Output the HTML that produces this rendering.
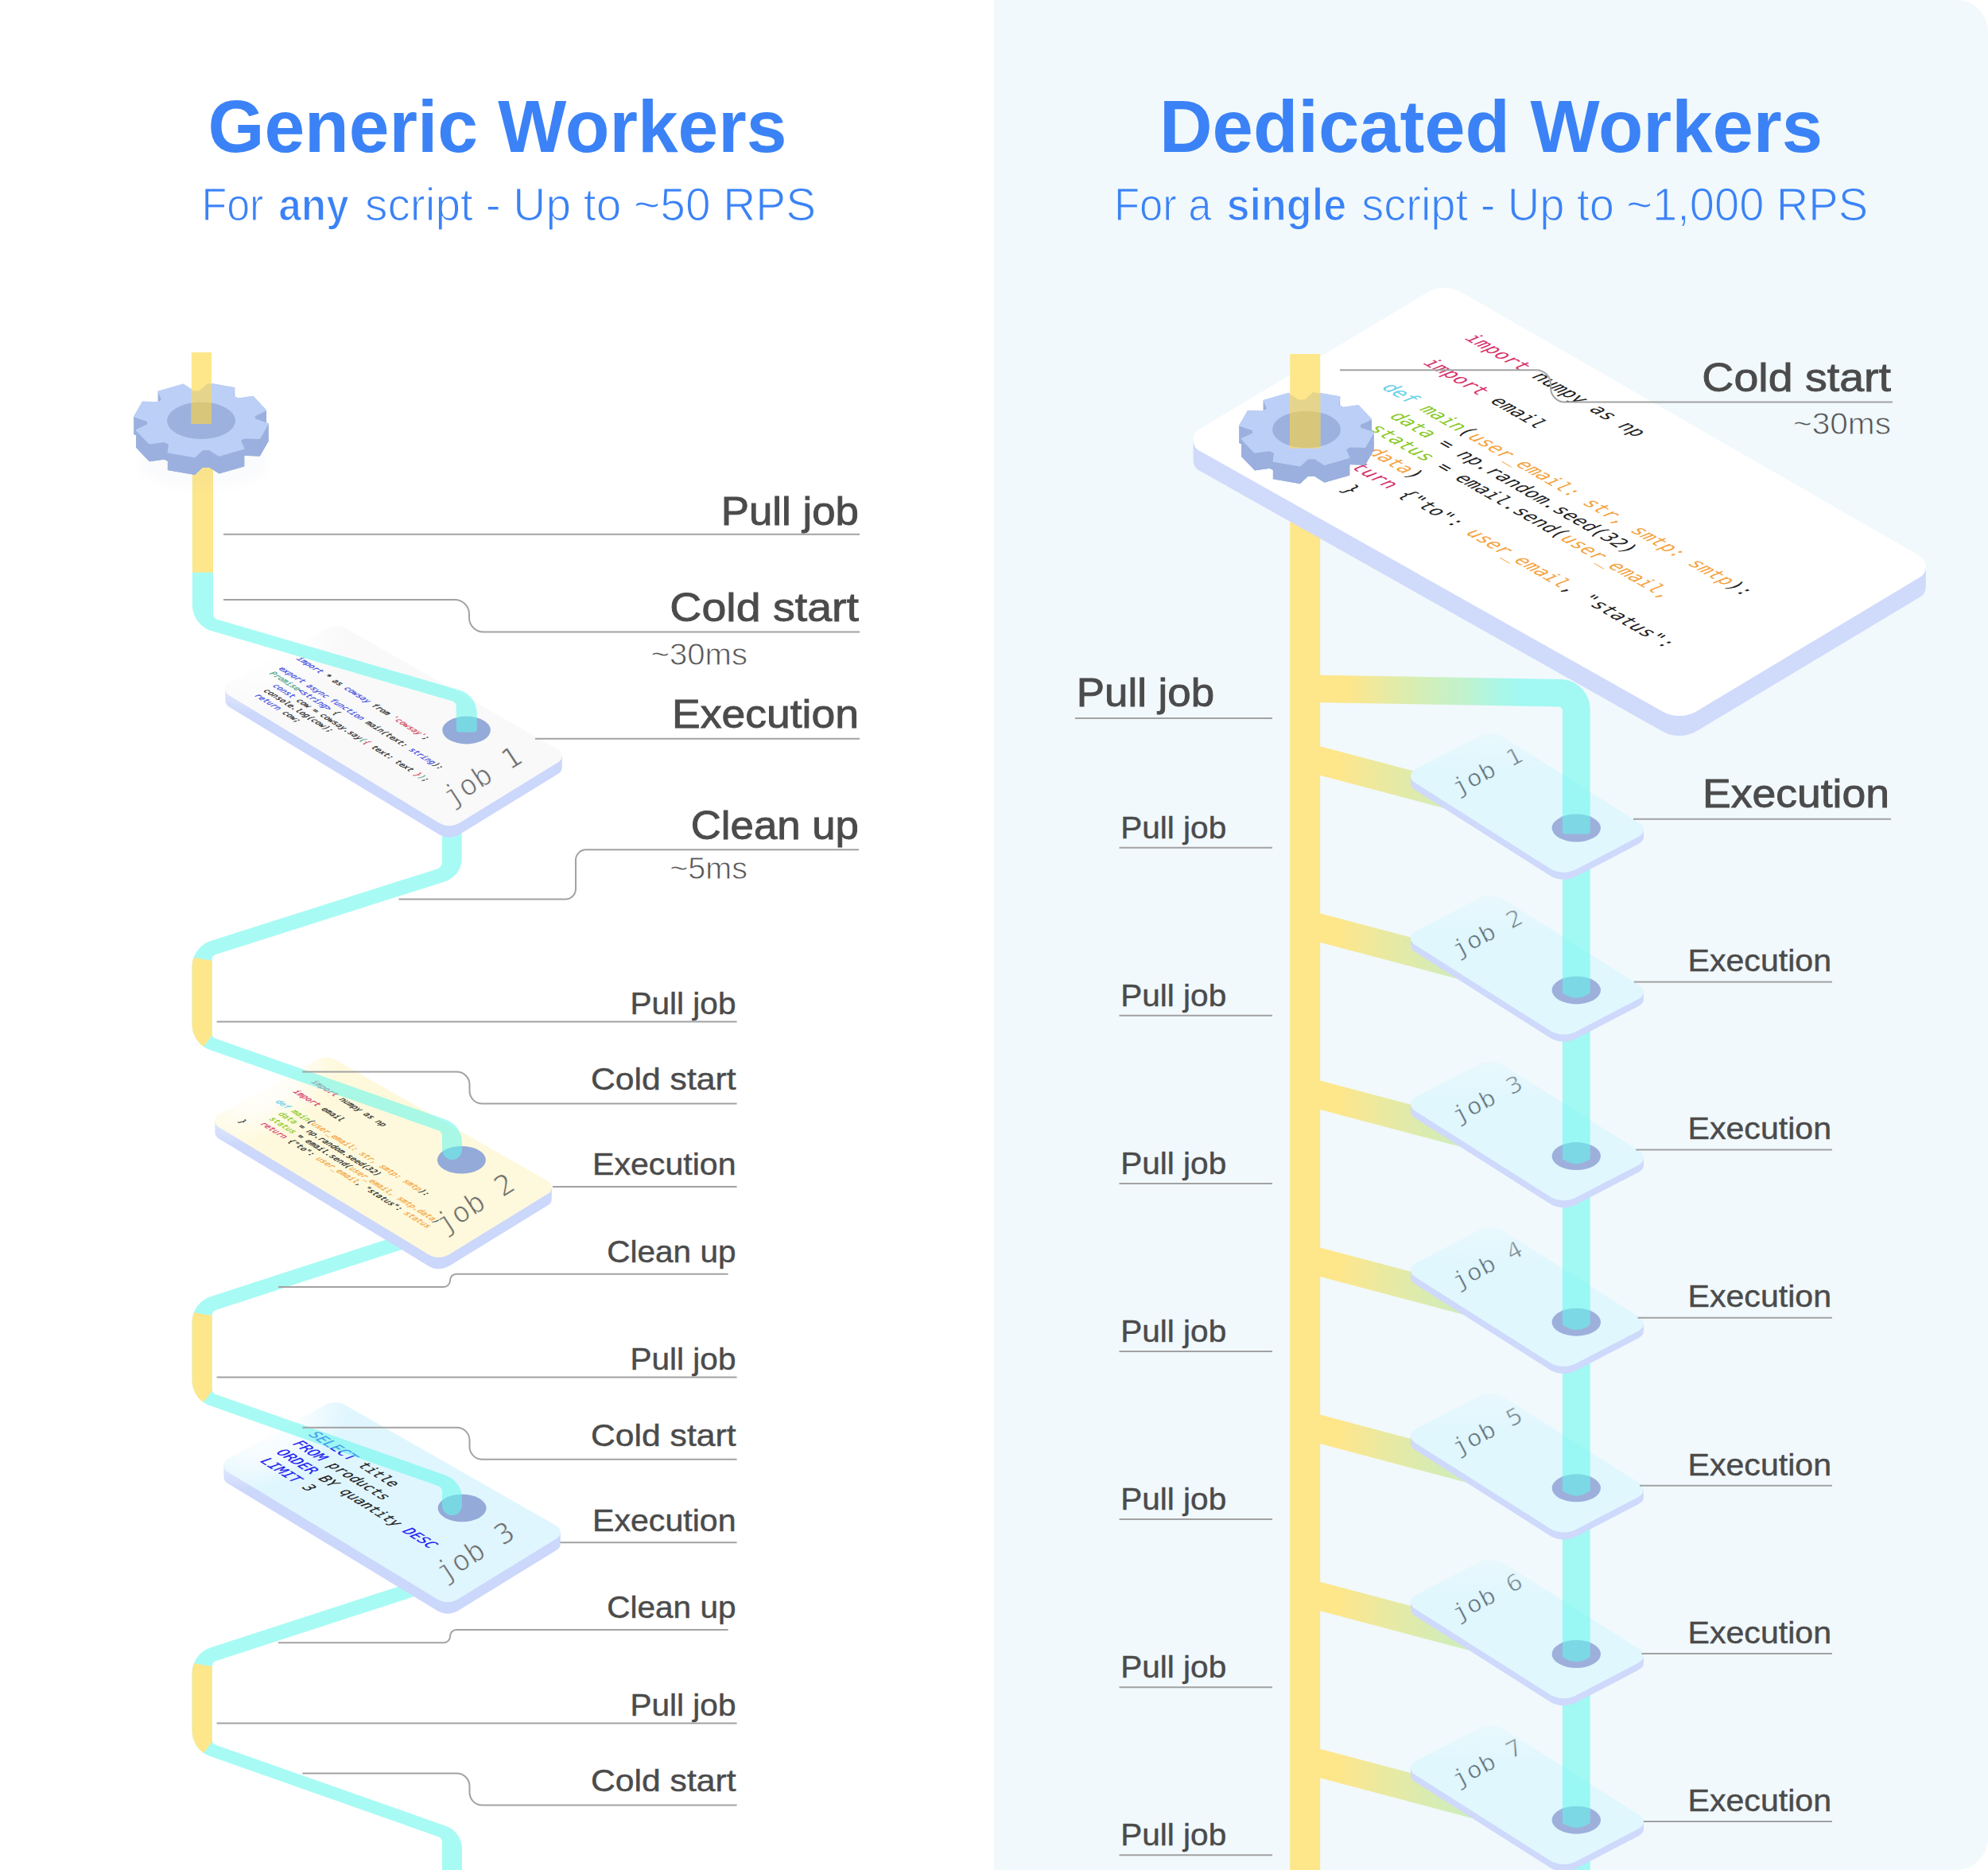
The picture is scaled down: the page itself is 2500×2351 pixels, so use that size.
<!DOCTYPE html>
<html lang="en"><head><meta charset="utf-8"><title>Generic Workers vs Dedicated Workers</title>
<style>
html,body{margin:0;padding:0;background:#fff}
body{width:2500px;height:2351px;overflow:hidden}
svg{display:block}
text{white-space:pre}
</style></head><body>
<svg width="2500" height="2351" viewBox="0 0 2500 2351">
<defs><clipPath id="rb0"><path d="M556 1025C556 1025 556 1025 556 1025L580.7 1025C580.7 1025 580.7 1025 580.7 1025L580.7 1079.62C580.7 1092.68 572.24 1104.25 559.79 1108.21L271.48 1199.89C268.57 1200.82 266.6 1203.51 266.6 1206.56L266.6 1299.16C266.6 1302.13 268.47 1304.78 271.28 1305.77L560.96 1407.74C572.97 1411.96 581 1423.31 581 1436.03L581 1445.6C581 1452.45 575.45 1458 568.6 1458L568.4 1458C561.55 1458 556 1452.45 556 1445.6L556 1427.75C556 1424.78 554.13 1422.13 551.32 1421.14L264.31 1320.12C250.7 1315.33 241.6 1302.47 241.6 1288.04L241.6 1215.26C241.6 1200.45 251.18 1187.34 265.3 1182.86L549.73 1092.41C553.46 1091.22 556 1087.75 556 1083.83Z"/></clipPath>
<clipPath id="rb1"><path d="M530 1543.96C530 1543.96 530 1543.96 530 1543.96L530 1562.96C530 1562.96 530 1562.96 530 1562.96L271.44 1646.99C268.55 1647.93 266.6 1650.62 266.6 1653.65L266.6 1746.36C266.6 1749.33 268.47 1751.98 271.28 1752.97L560.96 1854.94C572.97 1859.16 581 1870.51 581 1883.23L581 1892.8C581 1899.65 575.45 1905.2 568.6 1905.2L568.4 1905.2C561.55 1905.2 556 1899.65 556 1892.8L556 1874.95C556 1871.98 554.13 1869.33 551.32 1868.34L264.31 1767.32C250.7 1762.53 241.6 1749.67 241.6 1735.24L241.6 1662.39C241.6 1647.66 251.08 1634.61 265.09 1630.06Z"/></clipPath>
<clipPath id="rb2"><path d="M530 1985.16C530 1985.16 530 1985.16 530 1985.16L530 2004.16C530 2004.16 530 2004.16 530 2004.16L271.44 2088.19C268.55 2089.13 266.6 2091.82 266.6 2094.85L266.6 2187.16C266.6 2190.13 268.47 2192.78 271.28 2193.77L560.96 2295.74C572.97 2299.96 581 2311.31 581 2324.03L581 2400C581 2400 581 2400 581 2400L556 2400C556 2400 556 2400 556 2400L556 2315.75C556 2312.78 554.13 2310.13 551.32 2309.14L264.31 2208.12C250.7 2203.33 241.6 2190.47 241.6 2176.04L241.6 2103.59C241.6 2088.86 251.08 2075.81 265.09 2071.26Z"/></clipPath>
<radialGradient id="fade3" gradientUnits="userSpaceOnUse" cx="341" cy="1798.65" r="105" gradientTransform="rotate(-29 341 1798.65) scale(1 0.6) translate(0 1199.1)"><stop offset="0" stop-color="#fff" stop-opacity="0.92"/><stop offset="0.45" stop-color="#fff" stop-opacity="0.7"/><stop offset="1" stop-color="#fff" stop-opacity="0"/></radialGradient>
<radialGradient id="fade2" gradientUnits="userSpaceOnUse" cx="330" cy="1365.25" r="105" gradientTransform="rotate(-29 330 1365.25) scale(1 0.6) translate(0 910.17)"><stop offset="0" stop-color="#fff" stop-opacity="0.92"/><stop offset="0.45" stop-color="#fff" stop-opacity="0.7"/><stop offset="1" stop-color="#fff" stop-opacity="0"/></radialGradient>
<radialGradient id="fade1" gradientUnits="userSpaceOnUse" cx="343" cy="822.65" r="105" gradientTransform="rotate(-29 343 822.65) scale(1 0.6) translate(0 548.43)"><stop offset="0" stop-color="#fff" stop-opacity="0.92"/><stop offset="0.45" stop-color="#fff" stop-opacity="0.7"/><stop offset="1" stop-color="#fff" stop-opacity="0"/></radialGradient>
<clipPath id="rbA"><path d="M241.9 560C241.9 560 241.9 560 241.9 560L268 560C268 560 268 560 268 560L268 772.03C268 775.14 270.05 777.88 273.04 778.75L578.21 867.86C591 871.59 599.8 883.32 599.8 896.65L599.8 917.6C599.8 919.26 598.46 920.6 596.8 920.6L576.8 920.6C575.14 920.6 573.8 919.26 573.8 917.6L573.8 888.32C573.8 885.21 571.75 882.47 568.76 881.6L266.37 793.3C251.87 789.07 241.9 775.77 241.9 760.66Z"/></clipPath>
<filter id="blur8" x="-20%" y="-40%" width="140%" height="180%"><feGaussianBlur stdDeviation="7"/></filter>
<clipPath id="glt"><path d="M320.58 527.23L337.11 532.66L326.55 551.1L307.34 550.33L302.04 553.81L306.75 564.08L275.58 573.01L262.99 564.99L254.77 565.39L244.9 574.49L211.39 568.67L212.79 558.1L206.47 555.18L187.8 557.78L171.57 540.63L186.14 533.7L185.42 529.17L168.89 523.74L179.45 505.3L198.66 506.07L203.96 502.59L199.25 492.32L230.42 483.39L243.01 491.41L251.23 491.01L261.1 481.91L294.61 487.73L293.21 498.3L299.53 501.22L318.2 498.62L334.43 515.77L319.86 522.7Z"/></clipPath>
<clipPath id="glh"><ellipse cx="253" cy="528.8" rx="43" ry="23.2" /></clipPath>
<linearGradient id="gh" gradientUnits="userSpaceOnUse" x1="1660" y1="0" x2="1960" y2="0"><stop offset="0" stop-color="#fee68b"/><stop offset="0.12" stop-color="#fee68b"/><stop offset="0.62" stop-color="#b4f1c4" stop-opacity="0.8"/><stop offset="0.85" stop-color="#64f7ec" stop-opacity="0.56"/><stop offset="1" stop-color="#64f7ec" stop-opacity="0.56"/></linearGradient>
<linearGradient id="gs" gradientUnits="userSpaceOnUse" x1="1660" y1="0" x2="1900" y2="0"><stop offset="0" stop-color="#fee68b"/><stop offset="0.1" stop-color="#fee68b"/><stop offset="0.32" stop-color="#ebe9a0"/><stop offset="0.63" stop-color="#d5ecb5"/><stop offset="1" stop-color="#c4efc8"/></linearGradient>
<linearGradient id="fr6" gradientUnits="userSpaceOnUse" x1="0" y1="2166.15" x2="0" y2="2216.15"><stop offset="0" stop-color="#f1f9fc" stop-opacity="0.55"/><stop offset="1" stop-color="#f1f9fc" stop-opacity="0"/></linearGradient>
<linearGradient id="fr5" gradientUnits="userSpaceOnUse" x1="0" y1="1957.5" x2="0" y2="2007.5"><stop offset="0" stop-color="#f1f9fc" stop-opacity="0.55"/><stop offset="1" stop-color="#f1f9fc" stop-opacity="0"/></linearGradient>
<linearGradient id="fr4" gradientUnits="userSpaceOnUse" x1="0" y1="1748.85" x2="0" y2="1798.85"><stop offset="0" stop-color="#f1f9fc" stop-opacity="0.55"/><stop offset="1" stop-color="#f1f9fc" stop-opacity="0"/></linearGradient>
<linearGradient id="fr3" gradientUnits="userSpaceOnUse" x1="0" y1="1540.2" x2="0" y2="1590.2"><stop offset="0" stop-color="#f1f9fc" stop-opacity="0.55"/><stop offset="1" stop-color="#f1f9fc" stop-opacity="0"/></linearGradient>
<linearGradient id="fr2" gradientUnits="userSpaceOnUse" x1="0" y1="1331.55" x2="0" y2="1381.55"><stop offset="0" stop-color="#f1f9fc" stop-opacity="0.55"/><stop offset="1" stop-color="#f1f9fc" stop-opacity="0"/></linearGradient>
<linearGradient id="fr1" gradientUnits="userSpaceOnUse" x1="0" y1="1122.9" x2="0" y2="1172.9"><stop offset="0" stop-color="#f1f9fc" stop-opacity="0.55"/><stop offset="1" stop-color="#f1f9fc" stop-opacity="0"/></linearGradient>
<linearGradient id="fr0" gradientUnits="userSpaceOnUse" x1="0" y1="919" x2="0" y2="969"><stop offset="0" stop-color="#f1f9fc" stop-opacity="0.55"/><stop offset="1" stop-color="#f1f9fc" stop-opacity="0"/></linearGradient>
<clipPath id="grt"><path d="M1710.58 538.43L1727.11 543.86L1716.55 562.3L1697.34 561.53L1692.04 565.01L1696.75 575.28L1665.58 584.21L1652.99 576.19L1644.77 576.59L1634.9 585.69L1601.39 579.87L1602.79 569.3L1596.47 566.38L1577.8 568.98L1561.57 551.83L1576.14 544.9L1575.42 540.37L1558.89 534.94L1569.45 516.5L1588.66 517.27L1593.96 513.79L1589.25 503.52L1620.42 494.59L1633.01 502.61L1641.23 502.21L1651.1 493.11L1684.61 498.93L1683.21 509.5L1689.53 512.42L1708.2 509.82L1724.43 526.97L1709.86 533.9Z"/></clipPath>
<clipPath id="grh"><ellipse cx="1643" cy="540" rx="43" ry="23.2" /></clipPath></defs>
<rect x="0" y="0" width="2500" height="2351" fill="#fff"/>
<path d="M1250 0H2460A40 40 0 0 1 2500 40V2311A40 40 0 0 1 2460 2351H1250Z" fill="#f1f9fc"/>
<text x="625.5" y="190.5" font-family="'Liberation Sans', sans-serif" font-size="93" font-weight="700" fill="#3b82f6" text-anchor="middle" textLength="728" lengthAdjust="spacingAndGlyphs">Generic Workers</text>
<text x="253.4" y="276.5" font-family="'Liberation Sans', sans-serif" font-size="57" fill="#3b82f6" font-weight="400" stroke="#fff" stroke-width="1.2" textLength="78" lengthAdjust="spacingAndGlyphs">For</text><text x="350.2" y="276.5" font-family="'Liberation Sans', sans-serif" font-size="57" fill="#3b82f6" font-weight="700" stroke="#fff" stroke-width="1.6" textLength="88.7" lengthAdjust="spacingAndGlyphs">any</text><text x="459" y="276.5" font-family="'Liberation Sans', sans-serif" font-size="57" fill="#3b82f6" font-weight="400" stroke="#fff" stroke-width="1.2" textLength="567.2" lengthAdjust="spacingAndGlyphs">script - Up to ~50 RPS</text>
<text x="1875" y="190.5" font-family="'Liberation Sans', sans-serif" font-size="93" font-weight="700" fill="#3b82f6" text-anchor="middle" textLength="834" lengthAdjust="spacingAndGlyphs">Dedicated Workers</text>
<text x="1400.9" y="276.5" font-family="'Liberation Sans', sans-serif" font-size="57" fill="#3b82f6" font-weight="400" stroke="#f1f9fc" stroke-width="1.2" textLength="122.6" lengthAdjust="spacingAndGlyphs">For a</text><text x="1542.4" y="276.5" font-family="'Liberation Sans', sans-serif" font-size="57" fill="#3b82f6" font-weight="700" stroke="#f1f9fc" stroke-width="1.6" textLength="150.9" lengthAdjust="spacingAndGlyphs">single</text><text x="1712.2" y="276.5" font-family="'Liberation Sans', sans-serif" font-size="57" fill="#3b82f6" font-weight="400" stroke="#f1f9fc" stroke-width="1.2" textLength="636.9" lengthAdjust="spacingAndGlyphs">script - Up to ~1,000 RPS</text>
<path d="M530 1985.16C530 1985.16 530 1985.16 530 1985.16L530 2004.16C530 2004.16 530 2004.16 530 2004.16L271.44 2088.19C268.55 2089.13 266.6 2091.82 266.6 2094.85L266.6 2187.16C266.6 2190.13 268.47 2192.78 271.28 2193.77L560.96 2295.74C572.97 2299.96 581 2311.31 581 2324.03L581 2400C581 2400 581 2400 581 2400L556 2400C556 2400 556 2400 556 2400L556 2315.75C556 2312.78 554.13 2310.13 551.32 2309.14L264.31 2208.12C250.7 2203.33 241.6 2190.47 241.6 2176.04L241.6 2103.59C241.6 2088.86 251.08 2075.81 265.09 2071.26Z" fill="#64f7ec" fill-opacity="0.56"/><path d="M230 2089.1L280 2097.1L280 2172.6L230 2237.9Z" fill="#fee68b" clip-path="url(#rb2)"/>
<path d="M409.19 1780.63C416.83 1776.39 426.13 1776.45 433.72 1780.78L700.22 1932.97C706.15 1936.36 706.29 1944.87 700.47 1948.45L576.02 2024.99C568.03 2029.91 557.96 2029.94 549.94 2025.06L285.74 1864.54C279.84 1860.96 280.01 1852.33 286.04 1848.98ZM281.41 1842.18L704.75 1926.14L704.75 1940.64L281.41 1856.68Z" fill="#cbd7fb"/><path d="M409.19 1766.13C416.83 1761.89 426.13 1761.95 433.72 1766.28L700.22 1918.47C706.15 1921.86 706.29 1930.37 700.47 1933.95L576.02 2010.49C568.03 2015.41 557.96 2015.44 549.94 2010.56L285.74 1850.04C279.84 1846.46 280.01 1837.83 286.04 1834.48Z" fill="#e0f6fe"/><path d="M407.68 1761.43C415.37 1757.13 424.76 1757.18 432.39 1761.59L704.79 1918.68C710.69 1922.07 710.82 1930.53 705.04 1934.12L577.52 2013.32C569.48 2018.31 559.32 2018.34 551.25 2013.39L281.17 1847.69C275.32 1844.09 275.48 1835.53 281.48 1832.17ZM407.68 1777.93C415.37 1773.63 424.76 1773.68 432.39 1778.09L704.79 1935.18C710.69 1938.57 710.82 1947.03 705.04 1950.62L577.52 2029.82C569.48 2034.81 559.32 2034.84 551.25 2029.89L281.17 1864.19C275.32 1860.59 275.48 1852.03 281.48 1848.67Z" fill="url(#fade3)"/>
<g transform="matrix(0.85 0.53 -0.88 0.48 387.5 1804.3)" font-family="'DejaVu Sans Mono', 'Liberation Mono', monospace" font-size="17.25" font-style="italic" stroke-width="0.25"><text x="0" y="0" xml:space="preserve"><tspan fill="#1d1df0" stroke="#1d1df0">SELECT</tspan><tspan fill="#1f1f1f" stroke="#1f1f1f"> title</tspan></text><text x="0" y="23.1" xml:space="preserve"><tspan fill="#1d1df0" stroke="#1d1df0">FROM</tspan><tspan fill="#1f1f1f" stroke="#1f1f1f"> products</tspan></text><text x="0" y="46.2" xml:space="preserve"><tspan fill="#1d1df0" stroke="#1d1df0">ORDER</tspan><tspan fill="#1f1f1f" stroke="#1f1f1f"> BY quantity </tspan><tspan fill="#1d1df0" stroke="#1d1df0">DESC</tspan></text><text x="0" y="69.3" xml:space="preserve"><tspan fill="#1d1df0" stroke="#1d1df0">LIMIT</tspan><tspan fill="#1f1f1f" stroke="#1f1f1f"> 3</tspan></text></g>
<ellipse cx="581.1" cy="1896" rx="30.5" ry="17.3" fill="#94aad9"/>
<text transform="matrix(0.85 -0.53 0.55 0.84 558 1990)" font-family="'DejaVu Sans Mono', 'Liberation Mono', monospace" font-size="36" fill="#6e6e6e" stroke="#e0f6fe" stroke-width="0.9" xml:space="preserve">job 3</text>
<path d="M530 1543.96C530 1543.96 530 1543.96 530 1543.96L530 1562.96C530 1562.96 530 1562.96 530 1562.96L271.44 1646.99C268.55 1647.93 266.6 1650.62 266.6 1653.65L266.6 1746.36C266.6 1749.33 268.47 1751.98 271.28 1752.97L560.96 1854.94C572.97 1859.16 581 1870.51 581 1883.23L581 1892.8C581 1899.65 575.45 1905.2 568.6 1905.2L568.4 1905.2C561.55 1905.2 556 1899.65 556 1892.8L556 1874.95C556 1871.98 554.13 1869.33 551.32 1868.34L264.31 1767.32C250.7 1762.53 241.6 1749.67 241.6 1735.24L241.6 1662.39C241.6 1647.66 251.08 1634.61 265.09 1630.06Z" fill="#64f7ec" fill-opacity="0.56"/><path d="M230 1648.1L280 1656.1L280 1731.4L230 1796.7Z" fill="#fee68b" clip-path="url(#rb1)"/>
<path d="M398.19 1347.23C405.83 1342.99 415.13 1343.05 422.72 1347.38L689.22 1499.57C695.15 1502.96 695.29 1511.47 689.47 1515.05L565.02 1591.59C557.03 1596.51 546.96 1596.54 538.94 1591.66L274.74 1431.14C268.84 1427.56 269.01 1418.93 275.04 1415.58ZM270.41 1408.78L693.75 1492.74L693.75 1507.24L270.41 1423.28Z" fill="#cbd7fb"/><path d="M398.19 1332.73C405.83 1328.49 415.13 1328.55 422.72 1332.88L689.22 1485.07C695.15 1488.46 695.29 1496.97 689.47 1500.55L565.02 1577.09C557.03 1582.01 546.96 1582.04 538.94 1577.16L274.74 1416.64C268.84 1413.06 269.01 1404.43 275.04 1401.08Z" fill="#fef9dc"/><path d="M396.68 1328.03C404.37 1323.73 413.76 1323.78 421.39 1328.19L693.79 1485.28C699.69 1488.67 699.82 1497.13 694.04 1500.72L566.52 1579.92C558.48 1584.91 548.32 1584.94 540.25 1579.99L270.17 1414.29C264.32 1410.69 264.48 1402.13 270.48 1398.77ZM396.68 1344.53C404.37 1340.23 413.76 1340.28 421.39 1344.69L693.79 1501.78C699.69 1505.17 699.82 1513.63 694.04 1517.22L566.52 1596.42C558.48 1601.41 548.32 1601.44 540.25 1596.49L270.17 1430.79C264.32 1427.19 264.48 1418.63 270.48 1415.27Z" fill="url(#fade2)"/>
<g transform="matrix(0.85 0.53 -0.88 0.48 391 1360.5)" font-family="'DejaVu Sans Mono', 'Liberation Mono', monospace" font-size="9.8" font-style="italic" stroke-width="0.28"><text x="0" y="0" xml:space="preserve"><tspan fill="#d6336c" stroke="#d6336c">import</tspan><tspan fill="#1f1f1f" stroke="#1f1f1f"> numpy as np</tspan></text><text x="0" y="25.76" xml:space="preserve"><tspan fill="#d6336c" stroke="#d6336c">import</tspan><tspan fill="#1f1f1f" stroke="#1f1f1f"> email</tspan></text><text x="0" y="51.52" xml:space="preserve"><tspan fill="#66d0e8" stroke="#66d0e8">def </tspan><tspan fill="#8ac926" stroke="#8ac926">main</tspan><tspan fill="#1f1f1f" stroke="#1f1f1f">(</tspan><tspan fill="#f4a340" stroke="#f4a340">user_email: str, smtp: smtp</tspan><tspan fill="#1f1f1f" stroke="#1f1f1f">):</tspan></text><text x="0" y="64.4" xml:space="preserve"><tspan fill="#8ac926" stroke="#8ac926">   data</tspan><tspan fill="#1f1f1f" stroke="#1f1f1f"> = np.random.seed(32)</tspan></text><text x="0" y="77.28" xml:space="preserve"><tspan fill="#8ac926" stroke="#8ac926">   status</tspan><tspan fill="#1f1f1f" stroke="#1f1f1f"> = email.send(</tspan><tspan fill="#f4a340" stroke="#f4a340">user_email, smtp.data</tspan><tspan fill="#1f1f1f" stroke="#1f1f1f">)</tspan></text><text x="0" y="90.16" xml:space="preserve"><tspan fill="#d6336c" stroke="#d6336c">   return</tspan><tspan fill="#1f1f1f" stroke="#1f1f1f"> {"to": </tspan><tspan fill="#f4a340" stroke="#f4a340">user_email</tspan><tspan fill="#1f1f1f" stroke="#1f1f1f">, "status": </tspan><tspan fill="#f4a340" stroke="#f4a340">status</tspan></text><text x="0" y="103.04" xml:space="preserve"><tspan fill="#1f1f1f" stroke="#1f1f1f">}</tspan></text></g>
<ellipse cx="580.4" cy="1458.3" rx="30.5" ry="17.3" fill="#94aad9"/>
<text transform="matrix(0.85 -0.53 0.55 0.84 558 1552)" font-family="'DejaVu Sans Mono', 'Liberation Mono', monospace" font-size="36" fill="#6e6e6e" stroke="#fef9dc" stroke-width="0.9" xml:space="preserve">job 2</text>
<path d="M556 1025C556 1025 556 1025 556 1025L580.7 1025C580.7 1025 580.7 1025 580.7 1025L580.7 1079.62C580.7 1092.68 572.24 1104.25 559.79 1108.21L271.48 1199.89C268.57 1200.82 266.6 1203.51 266.6 1206.56L266.6 1299.16C266.6 1302.13 268.47 1304.78 271.28 1305.77L560.96 1407.74C572.97 1411.96 581 1423.31 581 1436.03L581 1445.6C581 1452.45 575.45 1458 568.6 1458L568.4 1458C561.55 1458 556 1452.45 556 1445.6L556 1427.75C556 1424.78 554.13 1422.13 551.32 1421.14L264.31 1320.12C250.7 1315.33 241.6 1302.47 241.6 1288.04L241.6 1215.26C241.6 1200.45 251.18 1187.34 265.3 1182.86L549.73 1092.41C553.46 1091.22 556 1087.75 556 1083.83Z" fill="#64f7ec" fill-opacity="0.56"/><path d="M230 1201.8L280 1209.8L280 1284.2L230 1349.5Z" fill="#fee68b" clip-path="url(#rb0)"/>
<path d="M411.19 804.63C418.83 800.39 428.13 800.45 435.72 804.78L702.22 956.97C708.15 960.36 708.29 968.87 702.47 972.45L578.02 1048.99C570.03 1053.91 559.96 1053.94 551.94 1049.06L287.74 888.54C281.84 884.96 282.01 876.33 288.04 872.98ZM283.41 866.18L706.75 950.14L706.75 964.64L283.41 880.68Z" fill="#cbd7fb"/><path d="M411.19 790.13C418.83 785.89 428.13 785.95 435.72 790.28L702.22 942.47C708.15 945.86 708.29 954.37 702.47 957.95L578.02 1034.49C570.03 1039.41 559.96 1039.44 551.94 1034.56L287.74 874.04C281.84 870.46 282.01 861.83 288.04 858.48Z" fill="#f9f9f9"/><path d="M409.68 785.43C417.37 781.13 426.76 781.18 434.39 785.59L706.79 942.68C712.69 946.07 712.82 954.53 707.04 958.12L579.52 1037.32C571.48 1042.31 561.32 1042.34 553.25 1037.39L283.17 871.69C277.32 868.09 277.48 859.53 283.48 856.17ZM409.68 801.93C417.37 797.63 426.76 797.68 434.39 802.09L706.79 959.18C712.69 962.57 712.82 971.03 707.04 974.62L579.52 1053.82C571.48 1058.81 561.32 1058.84 553.25 1053.89L283.17 888.19C277.32 884.59 277.48 876.03 283.48 872.67Z" fill="url(#fade1)"/>
<g transform="matrix(0.85 0.53 -0.88 0.48 372.5 828.6)" font-family="'DejaVu Sans Mono', 'Liberation Mono', monospace" font-size="9.7" font-style="italic" stroke-width="0.28"><text x="0" y="0" xml:space="preserve"><tspan fill="#3b49df" stroke="#3b49df">import</tspan><tspan fill="#1f1f1f" stroke="#1f1f1f"> * as </tspan><tspan fill="#3b49df" stroke="#3b49df">cowsay</tspan><tspan fill="#1f1f1f" stroke="#1f1f1f"> from </tspan><tspan fill="#d3455b" stroke="#d3455b">'cowsay'</tspan><tspan fill="#1f1f1f" stroke="#1f1f1f">;</tspan></text><text x="0" y="25.68" xml:space="preserve"><tspan fill="#3b49df" stroke="#3b49df">export async function</tspan><tspan fill="#1f1f1f" stroke="#1f1f1f"> main(text: </tspan><tspan fill="#3b49df" stroke="#3b49df">string</tspan><tspan fill="#1f1f1f" stroke="#1f1f1f">):</tspan></text><text x="0" y="38.52" xml:space="preserve"><tspan fill="#4fa58b" stroke="#4fa58b">Promise</tspan><tspan fill="#3b49df" stroke="#3b49df">&lt;string&gt;</tspan><tspan fill="#1f1f1f" stroke="#1f1f1f"> {</tspan></text><text x="0" y="51.36" xml:space="preserve"><tspan fill="#3b49df" stroke="#3b49df">   const</tspan><tspan fill="#1f1f1f" stroke="#1f1f1f"> cow = cowsay.say</tspan><tspan fill="#4fa58b" stroke="#4fa58b">(</tspan><tspan fill="#d3455b" stroke="#d3455b">{</tspan><tspan fill="#1f1f1f" stroke="#1f1f1f"> text: text </tspan><tspan fill="#d3455b" stroke="#d3455b">}</tspan><tspan fill="#4fa58b" stroke="#4fa58b">)</tspan><tspan fill="#1f1f1f" stroke="#1f1f1f">;</tspan></text><text x="0" y="64.2" xml:space="preserve"><tspan fill="#1f1f1f" stroke="#1f1f1f">   console.log(cow);</tspan></text><text x="0" y="77.04" xml:space="preserve"><tspan fill="#3b49df" stroke="#3b49df">   return</tspan><tspan fill="#1f1f1f" stroke="#1f1f1f"> cow;</tspan></text></g>
<ellipse cx="586.6" cy="918" rx="30.3" ry="17.4" fill="#94aad9"/>
<text transform="matrix(0.85 -0.53 0.55 0.84 567 1015)" font-family="'DejaVu Sans Mono', 'Liberation Mono', monospace" font-size="36" fill="#6e6e6e" stroke="#f8f8f8" stroke-width="0.9" xml:space="preserve">job 1</text>
<path d="M241.9 560C241.9 560 241.9 560 241.9 560L268 560C268 560 268 560 268 560L268 772.03C268 775.14 270.05 777.88 273.04 778.75L578.21 867.86C591 871.59 599.8 883.32 599.8 896.65L599.8 917.6C599.8 919.26 598.46 920.6 596.8 920.6L576.8 920.6C575.14 920.6 573.8 919.26 573.8 917.6L573.8 888.32C573.8 885.21 571.75 882.47 568.76 881.6L266.37 793.3C251.87 789.07 241.9 775.77 241.9 760.66Z" fill="#64f7ec" fill-opacity="0.56"/>
<rect x="230" y="550" width="50" height="169.7" fill="#fee68b" clip-path="url(#rbA)"/>
<ellipse cx="256" cy="583" rx="80" ry="30" fill="#8090b0" opacity="0.035" filter="url(#blur8)"/>
<g stroke-linejoin="round"><path d="M320.58 549.23L337.11 554.66L326.55 573.1L307.34 572.33L302.04 575.81L306.75 586.08L275.58 595.01L262.99 586.99L254.77 587.39L244.9 596.49L211.39 590.67L212.79 580.1L206.47 577.18L187.8 579.78L171.57 562.63L186.14 555.7L185.42 551.17L168.89 545.74L179.45 527.3L198.66 528.07L203.96 524.59L199.25 514.32L230.42 505.39L243.01 513.41L251.23 513.01L261.1 503.91L294.61 509.73L293.21 520.3L299.53 523.22L318.2 520.62L334.43 537.77L319.86 544.7Z" fill="#9bb0de" stroke="#9bb0de" stroke-width="1"/><path d="M320.58 527.23L337.11 532.66L337.11 554.66L320.58 549.23ZM337.11 554.66L326.55 573.1L326.55 551.1L337.11 532.66ZM326.55 573.1L307.34 572.33L307.34 550.33L326.55 551.1ZM307.34 572.33L302.04 575.81L302.04 553.81L307.34 550.33ZM302.04 553.81L306.75 564.08L306.75 586.08L302.04 575.81ZM306.75 586.08L275.58 595.01L275.58 573.01L306.75 564.08ZM275.58 595.01L262.99 586.99L262.99 564.99L275.58 573.01ZM262.99 586.99L254.77 587.39L254.77 565.39L262.99 564.99ZM254.77 587.39L244.9 596.49L244.9 574.49L254.77 565.39ZM244.9 596.49L211.39 590.67L211.39 568.67L244.9 574.49ZM211.39 568.67L212.79 558.1L212.79 580.1L211.39 590.67ZM212.79 580.1L206.47 577.18L206.47 555.18L212.79 558.1ZM206.47 577.18L187.8 579.78L187.8 557.78L206.47 555.18ZM187.8 579.78L171.57 562.63L171.57 540.63L187.8 557.78ZM171.57 540.63L186.14 533.7L186.14 555.7L171.57 562.63ZM186.14 555.7L185.42 551.17L185.42 529.17L186.14 533.7ZM185.42 551.17L168.89 545.74L168.89 523.74L185.42 529.17ZM168.89 523.74L179.45 505.3L179.45 527.3L168.89 545.74ZM179.45 505.3L198.66 506.07L198.66 528.07L179.45 527.3ZM198.66 506.07L203.96 502.59L203.96 524.59L198.66 528.07ZM203.96 524.59L199.25 514.32L199.25 492.32L203.96 502.59ZM199.25 492.32L230.42 483.39L230.42 505.39L199.25 514.32ZM230.42 483.39L243.01 491.41L243.01 513.41L230.42 505.39ZM243.01 491.41L251.23 491.01L251.23 513.01L243.01 513.41ZM251.23 491.01L261.1 481.91L261.1 503.91L251.23 513.01ZM261.1 481.91L294.61 487.73L294.61 509.73L261.1 503.91ZM294.61 509.73L293.21 520.3L293.21 498.3L294.61 487.73ZM293.21 498.3L299.53 501.22L299.53 523.22L293.21 520.3ZM299.53 501.22L318.2 498.62L318.2 520.62L299.53 523.22ZM318.2 498.62L334.43 515.77L334.43 537.77L318.2 520.62ZM334.43 537.77L319.86 544.7L319.86 522.7L334.43 515.77ZM319.86 522.7L320.58 527.23L320.58 549.23L319.86 544.7Z" fill="#9bb0de" stroke="#9bb0de" stroke-width="1"/><path d="M320.58 527.23L337.11 532.66L326.55 551.1L307.34 550.33L302.04 553.81L306.75 564.08L275.58 573.01L262.99 564.99L254.77 565.39L244.9 574.49L211.39 568.67L212.79 558.1L206.47 555.18L187.8 557.78L171.57 540.63L186.14 533.7L185.42 529.17L168.89 523.74L179.45 505.3L198.66 506.07L203.96 502.59L199.25 492.32L230.42 483.39L243.01 491.41L251.23 491.01L261.1 481.91L294.61 487.73L293.21 498.3L299.53 501.22L318.2 498.62L334.43 515.77L319.86 522.7Z" fill="#bccff6" stroke="#bccff6" stroke-width="1.6"/><ellipse cx="253" cy="528.8" rx="43" ry="23.2" fill="#9db1de"/></g><rect x="240.8" y="443" width="25.2" height="90" fill="#fee68b"/><rect x="240.8" y="443" width="25.2" height="90" fill="#e5d58c" clip-path="url(#glt)"/><rect x="240.8" y="443" width="25.2" height="90" fill="#d8c67b" clip-path="url(#glh)"/>
<path d="M281 671.8H1081" fill="none" stroke="#a2a2a2" stroke-width="2"/>
<text x="1080" y="660" font-family="'Liberation Sans', sans-serif" font-size="49.5" font-weight="400" fill="#4b4b4b" text-anchor="end" stroke="#4b4b4b" stroke-width="0.9"  textLength="173.3" lengthAdjust="spacingAndGlyphs">Pull job</text>
<path d="M281 754L572 754C581.94 754 590 762.06 590 772L590 776.6C590 786.54 598.06 794.6 608 794.6L1081 794.6" fill="none" stroke="#a2a2a2" stroke-width="2"/>
<text x="1080" y="781.4" font-family="'Liberation Sans', sans-serif" font-size="49.5" font-weight="400" fill="#4b4b4b" text-anchor="end" stroke="#4b4b4b" stroke-width="0.9"  textLength="237.7" lengthAdjust="spacingAndGlyphs">Cold start</text>
<text x="940" y="835.8" font-family="'Liberation Sans', sans-serif" font-size="39.5" font-weight="400" fill="#555" text-anchor="end"  stroke="#fff" stroke-width="0.8" textLength="121.5" lengthAdjust="spacingAndGlyphs">~30ms</text>
<path d="M673 928.7H1081" fill="none" stroke="#a2a2a2" stroke-width="2"/>
<text x="1080" y="915" font-family="'Liberation Sans', sans-serif" font-size="49.5" font-weight="400" fill="#4b4b4b" text-anchor="end" stroke="#4b4b4b" stroke-width="0.9"  textLength="235" lengthAdjust="spacingAndGlyphs">Execution</text>
<path d="M501.5 1130.6L711 1130.6C718.18 1130.6 724 1124.78 724 1117.6L724 1081.3C724 1074.12 729.82 1068.3 737 1068.3L1080 1068.3" fill="none" stroke="#a2a2a2" stroke-width="2"/>
<text x="1080" y="1055" font-family="'Liberation Sans', sans-serif" font-size="49.5" font-weight="400" fill="#4b4b4b" text-anchor="end" stroke="#4b4b4b" stroke-width="0.9"  textLength="211.3" lengthAdjust="spacingAndGlyphs">Clean up</text>
<text x="940" y="1105" font-family="'Liberation Sans', sans-serif" font-size="39.5" font-weight="400" fill="#555" text-anchor="end"  stroke="#fff" stroke-width="0.8" textLength="97.7" lengthAdjust="spacingAndGlyphs">~5ms</text>
<path d="M272.6 1284.4H926.6" fill="none" stroke="#a2a2a2" stroke-width="2"/>
<text x="925.5" y="1274.8" font-family="'Liberation Sans', sans-serif" font-size="38" font-weight="400" fill="#4b4b4b" text-anchor="end" stroke="#4b4b4b" stroke-width="0.45"  textLength="133.04" lengthAdjust="spacingAndGlyphs">Pull job</text>
<path d="M380.4 1347.5L574.5 1347.5C583.34 1347.5 590.5 1354.66 590.5 1363.5L590.5 1371.6C590.5 1380.44 597.66 1387.6 606.5 1387.6L926.6 1387.6" fill="none" stroke="#a2a2a2" stroke-width="2"/>
<text x="925.5" y="1370.4" font-family="'Liberation Sans', sans-serif" font-size="38" font-weight="400" fill="#4b4b4b" text-anchor="end" stroke="#4b4b4b" stroke-width="0.45"  textLength="182.48" lengthAdjust="spacingAndGlyphs">Cold start</text>
<path d="M695 1492H926.6" fill="none" stroke="#a2a2a2" stroke-width="2"/>
<text x="925.5" y="1477.4" font-family="'Liberation Sans', sans-serif" font-size="38" font-weight="400" fill="#4b4b4b" text-anchor="end" stroke="#4b4b4b" stroke-width="0.45"  textLength="180.4" lengthAdjust="spacingAndGlyphs">Execution</text>
<path d="M350 1618L558 1618C562.42 1618 566 1614.42 566 1610L566 1609.7C566 1605.28 569.58 1601.7 574 1601.7L915.6 1601.7" fill="none" stroke="#a2a2a2" stroke-width="2"/>
<text x="925.5" y="1587" font-family="'Liberation Sans', sans-serif" font-size="38" font-weight="400" fill="#4b4b4b" text-anchor="end" stroke="#4b4b4b" stroke-width="0.45"  textLength="162.21" lengthAdjust="spacingAndGlyphs">Clean up</text>
<path d="M272.6 1731.6H926.6" fill="none" stroke="#a2a2a2" stroke-width="2"/>
<text x="925.5" y="1722" font-family="'Liberation Sans', sans-serif" font-size="38" font-weight="400" fill="#4b4b4b" text-anchor="end" stroke="#4b4b4b" stroke-width="0.45"  textLength="133.04" lengthAdjust="spacingAndGlyphs">Pull job</text>
<path d="M380.4 1794.7L574.5 1794.7C583.34 1794.7 590.5 1801.86 590.5 1810.7L590.5 1818.8C590.5 1827.64 597.66 1834.8 606.5 1834.8L926.6 1834.8" fill="none" stroke="#a2a2a2" stroke-width="2"/>
<text x="925.5" y="1817.6" font-family="'Liberation Sans', sans-serif" font-size="38" font-weight="400" fill="#4b4b4b" text-anchor="end" stroke="#4b4b4b" stroke-width="0.45"  textLength="182.48" lengthAdjust="spacingAndGlyphs">Cold start</text>
<path d="M704.6 1939.2H926.6" fill="none" stroke="#a2a2a2" stroke-width="2"/>
<text x="925.5" y="1924.6" font-family="'Liberation Sans', sans-serif" font-size="38" font-weight="400" fill="#4b4b4b" text-anchor="end" stroke="#4b4b4b" stroke-width="0.45"  textLength="180.4" lengthAdjust="spacingAndGlyphs">Execution</text>
<path d="M350 2065.2L558 2065.2C562.42 2065.2 566 2061.62 566 2057.2L566 2056.9C566 2052.48 569.58 2048.9 574 2048.9L915.6 2048.9" fill="none" stroke="#a2a2a2" stroke-width="2"/>
<text x="925.5" y="2034.2" font-family="'Liberation Sans', sans-serif" font-size="38" font-weight="400" fill="#4b4b4b" text-anchor="end" stroke="#4b4b4b" stroke-width="0.45"  textLength="162.21" lengthAdjust="spacingAndGlyphs">Clean up</text>
<path d="M272.6 2166.4H926.6" fill="none" stroke="#a2a2a2" stroke-width="2"/>
<text x="925.5" y="2156.8" font-family="'Liberation Sans', sans-serif" font-size="38" font-weight="400" fill="#4b4b4b" text-anchor="end" stroke="#4b4b4b" stroke-width="0.45"  textLength="133.04" lengthAdjust="spacingAndGlyphs">Pull job</text>
<path d="M380.4 2229.5L574.5 2229.5C583.34 2229.5 590.5 2236.66 590.5 2245.5L590.5 2253.6C590.5 2262.44 597.66 2269.6 606.5 2269.6L926.6 2269.6" fill="none" stroke="#a2a2a2" stroke-width="2"/>
<text x="925.5" y="2252.4" font-family="'Liberation Sans', sans-serif" font-size="38" font-weight="400" fill="#4b4b4b" text-anchor="end" stroke="#4b4b4b" stroke-width="0.45"  textLength="182.48" lengthAdjust="spacingAndGlyphs">Cold start</text>
<rect x="1622.2" y="560" width="38" height="1791" fill="#fee68b"/>
<path d="M1982.3 2328.15V2356" stroke="#64f7ec" stroke-opacity="0.56" stroke-width="34.8" fill="none"/>
<path d="M1659 2198.54 L1900 2262.4 L1900 2298.9 L1659 2235.04Z" fill="url(#gs)"/>
<path d="M1891.2 2182.8L2060.88 2290.55C2069.27 2295.88 2068.92 2303.91 2060.1 2308.5L1980.87 2349.7C1972.05 2354.28 1958.1 2353.68 1949.71 2348.35L1780.03 2240.61C1771.63 2235.28 1771.98 2227.24 1780.8 2222.65L1860.03 2181.45C1868.85 2176.87 1882.8 2177.47 1891.2 2182.8ZM1773.95 2222.57L2066.95 2290.58L2066.95 2299.58L1773.95 2231.57Z" fill="#ced9fb" /><path d="M1891.2 2173.8L2060.88 2281.55C2069.27 2286.88 2068.92 2294.91 2060.1 2299.5L1980.87 2340.7C1972.05 2345.28 1958.1 2344.68 1949.71 2339.35L1780.03 2231.61C1771.63 2226.28 1771.98 2218.24 1780.8 2213.65L1860.03 2172.45C1868.85 2167.87 1882.8 2168.47 1891.2 2173.8Z" fill="#e0f7fe" />
<text transform="matrix(0.89 -0.47 0.42 0.8 1832.6 2247.55)" font-family="'DejaVu Sans Mono', 'Liberation Mono', monospace" font-size="31.6" fill="#63727c" stroke="#e0f7fe" stroke-width="0.7" xml:space="preserve">job 7</text>
<path d="M1891.2 2171.8L2063.41 2281.15C2071.8 2286.48 2071.45 2294.52 2062.63 2299.11L1980.74 2341.69C1971.92 2346.28 1957.97 2345.68 1949.58 2340.35L1777.37 2230.99C1768.97 2225.66 1769.32 2217.62 1778.14 2213.04L1860.03 2170.45C1868.85 2165.87 1882.8 2166.47 1891.2 2171.8Z" fill="url(#fr6)"/>
<ellipse cx="1982.3" cy="2288.15" rx="30.7" ry="17.5" fill="#9db0dc"/>
<path d="M1964.9 2119.5V2291.65Q1982.3 2303.85 1999.7 2291.65V2119.5Z" fill="#64f7ec" fill-opacity="0.56"/>
<path d="M1659 1988.43 L1900 2052.3 L1900 2088.8 L1659 2024.93Z" fill="url(#gs)"/>
<path d="M1891.2 1974.15L2060.88 2081.9C2069.27 2087.23 2068.92 2095.26 2060.1 2099.85L1980.87 2141.05C1972.05 2145.63 1958.1 2145.03 1949.71 2139.7L1780.03 2031.96C1771.63 2026.63 1771.98 2018.59 1780.8 2014L1860.03 1972.8C1868.85 1968.22 1882.8 1968.82 1891.2 1974.15ZM1773.95 2013.92L2066.95 2081.93L2066.95 2090.93L1773.95 2022.92Z" fill="#ced9fb" /><path d="M1891.2 1965.15L2060.88 2072.9C2069.27 2078.23 2068.92 2086.26 2060.1 2090.85L1980.87 2132.05C1972.05 2136.63 1958.1 2136.03 1949.71 2130.7L1780.03 2022.96C1771.63 2017.63 1771.98 2009.59 1780.8 2005L1860.03 1963.8C1868.85 1959.22 1882.8 1959.82 1891.2 1965.15Z" fill="#e0f7fe" />
<text transform="matrix(0.89 -0.47 0.42 0.8 1832.6 2038.9)" font-family="'DejaVu Sans Mono', 'Liberation Mono', monospace" font-size="31.6" fill="#63727c" stroke="#e0f7fe" stroke-width="0.7" xml:space="preserve">job 6</text>
<path d="M1891.2 1963.15L2063.41 2072.5C2071.8 2077.83 2071.45 2085.87 2062.63 2090.46L1980.74 2133.04C1971.92 2137.63 1957.97 2137.03 1949.58 2131.7L1777.37 2022.34C1768.97 2017.01 1769.32 2008.97 1778.14 2004.39L1860.03 1961.8C1868.85 1957.22 1882.8 1957.82 1891.2 1963.15Z" fill="url(#fr5)"/>
<ellipse cx="1982.3" cy="2079.5" rx="30.7" ry="17.5" fill="#9db0dc"/>
<path d="M1964.9 1910.85V2083Q1982.3 2095.2 1999.7 2083V1910.85Z" fill="#64f7ec" fill-opacity="0.56"/>
<path d="M1659 1778.33 L1900 1842.2 L1900 1878.7 L1659 1814.83Z" fill="url(#gs)"/>
<path d="M1891.2 1765.5L2060.88 1873.25C2069.27 1878.58 2068.92 1886.61 2060.1 1891.2L1980.87 1932.4C1972.05 1936.98 1958.1 1936.38 1949.71 1931.05L1780.03 1823.31C1771.63 1817.98 1771.98 1809.94 1780.8 1805.35L1860.03 1764.15C1868.85 1759.57 1882.8 1760.17 1891.2 1765.5ZM1773.95 1805.27L2066.95 1873.28L2066.95 1882.28L1773.95 1814.27Z" fill="#ced9fb" /><path d="M1891.2 1756.5L2060.88 1864.25C2069.27 1869.58 2068.92 1877.61 2060.1 1882.2L1980.87 1923.4C1972.05 1927.98 1958.1 1927.38 1949.71 1922.05L1780.03 1814.31C1771.63 1808.98 1771.98 1800.94 1780.8 1796.35L1860.03 1755.15C1868.85 1750.57 1882.8 1751.17 1891.2 1756.5Z" fill="#e0f7fe" />
<text transform="matrix(0.89 -0.47 0.42 0.8 1832.6 1830.25)" font-family="'DejaVu Sans Mono', 'Liberation Mono', monospace" font-size="31.6" fill="#63727c" stroke="#e0f7fe" stroke-width="0.7" xml:space="preserve">job 5</text>
<path d="M1891.2 1754.5L2063.41 1863.85C2071.8 1869.18 2071.45 1877.22 2062.63 1881.81L1980.74 1924.39C1971.92 1928.98 1957.97 1928.38 1949.58 1923.05L1777.37 1813.69C1768.97 1808.36 1769.32 1800.32 1778.14 1795.74L1860.03 1753.15C1868.85 1748.57 1882.8 1749.17 1891.2 1754.5Z" fill="url(#fr4)"/>
<ellipse cx="1982.3" cy="1870.85" rx="30.7" ry="17.5" fill="#9db0dc"/>
<path d="M1964.9 1702.2V1874.35Q1982.3 1886.55 1999.7 1874.35V1702.2Z" fill="#64f7ec" fill-opacity="0.56"/>
<path d="M1659 1568.23 L1900 1632.1 L1900 1668.6 L1659 1604.73Z" fill="url(#gs)"/>
<path d="M1891.2 1556.85L2060.88 1664.6C2069.27 1669.93 2068.92 1677.96 2060.1 1682.55L1980.87 1723.75C1972.05 1728.33 1958.1 1727.73 1949.71 1722.4L1780.03 1614.66C1771.63 1609.33 1771.98 1601.29 1780.8 1596.7L1860.03 1555.5C1868.85 1550.92 1882.8 1551.52 1891.2 1556.85ZM1773.95 1596.62L2066.95 1664.63L2066.95 1673.63L1773.95 1605.62Z" fill="#ced9fb" /><path d="M1891.2 1547.85L2060.88 1655.6C2069.27 1660.93 2068.92 1668.96 2060.1 1673.55L1980.87 1714.75C1972.05 1719.33 1958.1 1718.73 1949.71 1713.4L1780.03 1605.66C1771.63 1600.33 1771.98 1592.29 1780.8 1587.7L1860.03 1546.5C1868.85 1541.92 1882.8 1542.52 1891.2 1547.85Z" fill="#e0f7fe" />
<text transform="matrix(0.89 -0.47 0.42 0.8 1832.6 1621.6)" font-family="'DejaVu Sans Mono', 'Liberation Mono', monospace" font-size="31.6" fill="#63727c" stroke="#e0f7fe" stroke-width="0.7" xml:space="preserve">job 4</text>
<path d="M1891.2 1545.85L2063.41 1655.2C2071.8 1660.53 2071.45 1668.57 2062.63 1673.16L1980.74 1715.74C1971.92 1720.33 1957.97 1719.73 1949.58 1714.4L1777.37 1605.04C1768.97 1599.71 1769.32 1591.67 1778.14 1587.09L1860.03 1544.5C1868.85 1539.92 1882.8 1540.52 1891.2 1545.85Z" fill="url(#fr3)"/>
<ellipse cx="1982.3" cy="1662.2" rx="30.7" ry="17.5" fill="#9db0dc"/>
<path d="M1964.9 1493.55V1665.7Q1982.3 1677.9 1999.7 1665.7V1493.55Z" fill="#64f7ec" fill-opacity="0.56"/>
<path d="M1659 1358.13 L1900 1422 L1900 1458.5 L1659 1394.63Z" fill="url(#gs)"/>
<path d="M1891.2 1348.2L2060.88 1455.95C2069.27 1461.28 2068.92 1469.31 2060.1 1473.9L1980.87 1515.1C1972.05 1519.68 1958.1 1519.08 1949.71 1513.75L1780.03 1406.01C1771.63 1400.68 1771.98 1392.64 1780.8 1388.05L1860.03 1346.85C1868.85 1342.27 1882.8 1342.87 1891.2 1348.2ZM1773.95 1387.97L2066.95 1455.98L2066.95 1464.98L1773.95 1396.97Z" fill="#ced9fb" /><path d="M1891.2 1339.2L2060.88 1446.95C2069.27 1452.28 2068.92 1460.31 2060.1 1464.9L1980.87 1506.1C1972.05 1510.68 1958.1 1510.08 1949.71 1504.75L1780.03 1397.01C1771.63 1391.68 1771.98 1383.64 1780.8 1379.05L1860.03 1337.85C1868.85 1333.27 1882.8 1333.87 1891.2 1339.2Z" fill="#e0f7fe" />
<text transform="matrix(0.89 -0.47 0.42 0.8 1832.6 1412.95)" font-family="'DejaVu Sans Mono', 'Liberation Mono', monospace" font-size="31.6" fill="#63727c" stroke="#e0f7fe" stroke-width="0.7" xml:space="preserve">job 3</text>
<path d="M1891.2 1337.2L2063.41 1446.55C2071.8 1451.88 2071.45 1459.92 2062.63 1464.51L1980.74 1507.09C1971.92 1511.68 1957.97 1511.08 1949.58 1505.75L1777.37 1396.39C1768.97 1391.06 1769.32 1383.02 1778.14 1378.44L1860.03 1335.85C1868.85 1331.27 1882.8 1331.87 1891.2 1337.2Z" fill="url(#fr2)"/>
<ellipse cx="1982.3" cy="1453.55" rx="30.7" ry="17.5" fill="#9db0dc"/>
<path d="M1964.9 1284.9V1457.05Q1982.3 1469.25 1999.7 1457.05V1284.9Z" fill="#64f7ec" fill-opacity="0.56"/>
<path d="M1659 1148.03 L1900 1211.9 L1900 1248.4 L1659 1184.53Z" fill="url(#gs)"/>
<path d="M1891.2 1139.55L2060.88 1247.3C2069.27 1252.63 2068.92 1260.66 2060.1 1265.25L1980.87 1306.45C1972.05 1311.03 1958.1 1310.43 1949.71 1305.1L1780.03 1197.36C1771.63 1192.03 1771.98 1183.99 1780.8 1179.4L1860.03 1138.2C1868.85 1133.62 1882.8 1134.22 1891.2 1139.55ZM1773.95 1179.32L2066.95 1247.33L2066.95 1256.33L1773.95 1188.32Z" fill="#ced9fb" /><path d="M1891.2 1130.55L2060.88 1238.3C2069.27 1243.63 2068.92 1251.66 2060.1 1256.25L1980.87 1297.45C1972.05 1302.03 1958.1 1301.43 1949.71 1296.1L1780.03 1188.36C1771.63 1183.03 1771.98 1174.99 1780.8 1170.4L1860.03 1129.2C1868.85 1124.62 1882.8 1125.22 1891.2 1130.55Z" fill="#e0f7fe" />
<text transform="matrix(0.89 -0.47 0.42 0.8 1832.6 1204.3)" font-family="'DejaVu Sans Mono', 'Liberation Mono', monospace" font-size="31.6" fill="#63727c" stroke="#e0f7fe" stroke-width="0.7" xml:space="preserve">job 2</text>
<path d="M1891.2 1128.55L2063.41 1237.9C2071.8 1243.23 2071.45 1251.27 2062.63 1255.86L1980.74 1298.44C1971.92 1303.03 1957.97 1302.43 1949.58 1297.1L1777.37 1187.74C1768.97 1182.41 1769.32 1174.37 1778.14 1169.79L1860.03 1127.2C1868.85 1122.62 1882.8 1123.22 1891.2 1128.55Z" fill="url(#fr1)"/>
<ellipse cx="1982.3" cy="1244.9" rx="30.7" ry="17.5" fill="#9db0dc"/>
<path d="M1964.9 1081V1248.4Q1982.3 1260.6 1999.7 1248.4V1081Z" fill="#64f7ec" fill-opacity="0.56"/>
<path d="M1659 937.94 L1900 1001.8 L1900 1038.3 L1659 974.44Z" fill="url(#gs)"/>
<path d="M1891.2 935.65L2060.88 1043.4C2069.27 1048.73 2068.92 1056.76 2060.1 1061.35L1980.87 1102.55C1972.05 1107.13 1958.1 1106.53 1949.71 1101.2L1780.03 993.46C1771.63 988.13 1771.98 980.09 1780.8 975.5L1860.03 934.3C1868.85 929.72 1882.8 930.32 1891.2 935.65ZM1773.95 975.42L2066.95 1043.43L2066.95 1052.43L1773.95 984.42Z" fill="#ced9fb" /><path d="M1891.2 926.65L2060.88 1034.4C2069.27 1039.73 2068.92 1047.76 2060.1 1052.35L1980.87 1093.55C1972.05 1098.13 1958.1 1097.53 1949.71 1092.2L1780.03 984.46C1771.63 979.13 1771.98 971.09 1780.8 966.5L1860.03 925.3C1868.85 920.72 1882.8 921.32 1891.2 926.65Z" fill="#e0f7fe" />
<text transform="matrix(0.89 -0.47 0.42 0.8 1832.6 1000.4)" font-family="'DejaVu Sans Mono', 'Liberation Mono', monospace" font-size="31.6" fill="#63727c" stroke="#e0f7fe" stroke-width="0.7" xml:space="preserve">job 1</text>
<path d="M1891.2 924.65L2063.41 1034C2071.8 1039.33 2071.45 1047.37 2062.63 1051.96L1980.74 1094.54C1971.92 1099.13 1957.97 1098.53 1949.58 1093.2L1777.37 983.84C1768.97 978.51 1769.32 970.47 1778.14 965.89L1860.03 923.3C1868.85 918.72 1882.8 919.32 1891.2 924.65Z" fill="url(#fr0)"/>
<ellipse cx="1982.3" cy="1041" rx="30.7" ry="17.5" fill="#9db0dc"/>
<path d="M1659 848.78C1659 848.78 1659 848.78 1659 848.78L1962.35 853.94C1983.08 854.29 1999.7 871.2 1999.7 891.93L1999.7 1045.5C1999.7 1047.16 1998.36 1048.5 1996.7 1048.5L1967.9 1048.5C1966.24 1048.5 1964.9 1047.16 1964.9 1045.5L1964.9 893.4C1964.9 890.67 1962.71 888.45 1959.98 888.4L1659 883.28C1659 883.28 1659 883.28 1659 883.28Z" fill="url(#gh)"/>
<path d="M1794.44 393C1807.81 384.97 1824.48 384.82 1838 392.59L2414.08 723.86C2424.4 729.8 2424.53 744.64 2414.32 750.76L2133.93 918.94C2120.68 926.89 2104.19 927.12 2090.72 919.54L1508.48 591.76C1498.06 585.89 1497.85 570.95 1508.11 564.79ZM1500.54 553.39L2421.9 712.24L2421.9 737.24L1500.54 578.39Z" fill="#d0dbfb"/><path d="M1794.44 368C1807.81 359.97 1824.48 359.82 1838 367.59L2414.08 698.86C2424.4 704.8 2424.53 719.64 2414.32 725.76L2133.93 893.94C2120.68 901.89 2104.19 902.12 2090.72 894.54L1508.48 566.76C1498.06 560.89 1497.85 545.95 1508.11 539.79Z" fill="#ffffff"/>
<g transform="matrix(0.87 0.5 -0.86 0.51 1841.2 425.9)" font-family="'DejaVu Sans Mono', 'Liberation Mono', monospace" font-size="23" font-style="italic"><text x="0" y="0" xml:space="preserve"><tspan fill="#d6336c">import</tspan><tspan fill="#1f1f1f"> numpy as np</tspan></text><text x="0" y="60.8" xml:space="preserve"><tspan fill="#d6336c">import</tspan><tspan fill="#1f1f1f"> email</tspan></text><text x="0" y="121.6" xml:space="preserve"><tspan fill="#66d0e8">def </tspan><tspan fill="#8ac926">main</tspan><tspan fill="#1f1f1f">(</tspan><tspan fill="#f4a340">user_email: str, smtp: smtp</tspan><tspan fill="#1f1f1f">):</tspan></text><text x="41.54" y="152" xml:space="preserve"><tspan fill="#8ac926">data</tspan><tspan fill="#1f1f1f"> = np.random.seed(32)</tspan></text><text x="41.54" y="182.4" xml:space="preserve"><tspan fill="#8ac926">status</tspan><tspan fill="#1f1f1f"> = email.send(</tspan><tspan fill="#f4a340">user_email,</tspan></text><text x="0" y="212.8" xml:space="preserve"><tspan fill="#f4a340">smtp.data</tspan><tspan fill="#1f1f1f">)</tspan></text><text x="48.46" y="243.2" xml:space="preserve"><tspan fill="#d6336c">return</tspan><tspan fill="#1f1f1f"> {"to": </tspan><tspan fill="#f4a340">user_email</tspan><tspan fill="#1f1f1f">, "status":</tspan></text><text x="96.92" y="277.55" xml:space="preserve"><tspan fill="#1f1f1f">}</tspan></text></g>
<g stroke-linejoin="round"><path d="M1710.58 560.43L1727.11 565.86L1716.55 584.3L1697.34 583.53L1692.04 587.01L1696.75 597.28L1665.58 606.21L1652.99 598.19L1644.77 598.59L1634.9 607.69L1601.39 601.87L1602.79 591.3L1596.47 588.38L1577.8 590.98L1561.57 573.83L1576.14 566.9L1575.42 562.37L1558.89 556.94L1569.45 538.5L1588.66 539.27L1593.96 535.79L1589.25 525.52L1620.42 516.59L1633.01 524.61L1641.23 524.21L1651.1 515.11L1684.61 520.93L1683.21 531.5L1689.53 534.42L1708.2 531.82L1724.43 548.97L1709.86 555.9Z" fill="#9bb0de" stroke="#9bb0de" stroke-width="1"/><path d="M1710.58 538.43L1727.11 543.86L1727.11 565.86L1710.58 560.43ZM1727.11 565.86L1716.55 584.3L1716.55 562.3L1727.11 543.86ZM1716.55 584.3L1697.34 583.53L1697.34 561.53L1716.55 562.3ZM1697.34 583.53L1692.04 587.01L1692.04 565.01L1697.34 561.53ZM1692.04 565.01L1696.75 575.28L1696.75 597.28L1692.04 587.01ZM1696.75 597.28L1665.58 606.21L1665.58 584.21L1696.75 575.28ZM1665.58 606.21L1652.99 598.19L1652.99 576.19L1665.58 584.21ZM1652.99 598.19L1644.77 598.59L1644.77 576.59L1652.99 576.19ZM1644.77 598.59L1634.9 607.69L1634.9 585.69L1644.77 576.59ZM1634.9 607.69L1601.39 601.87L1601.39 579.87L1634.9 585.69ZM1601.39 579.87L1602.79 569.3L1602.79 591.3L1601.39 601.87ZM1602.79 591.3L1596.47 588.38L1596.47 566.38L1602.79 569.3ZM1596.47 588.38L1577.8 590.98L1577.8 568.98L1596.47 566.38ZM1577.8 590.98L1561.57 573.83L1561.57 551.83L1577.8 568.98ZM1561.57 551.83L1576.14 544.9L1576.14 566.9L1561.57 573.83ZM1576.14 566.9L1575.42 562.37L1575.42 540.37L1576.14 544.9ZM1575.42 562.37L1558.89 556.94L1558.89 534.94L1575.42 540.37ZM1558.89 534.94L1569.45 516.5L1569.45 538.5L1558.89 556.94ZM1569.45 516.5L1588.66 517.27L1588.66 539.27L1569.45 538.5ZM1588.66 517.27L1593.96 513.79L1593.96 535.79L1588.66 539.27ZM1593.96 535.79L1589.25 525.52L1589.25 503.52L1593.96 513.79ZM1589.25 503.52L1620.42 494.59L1620.42 516.59L1589.25 525.52ZM1620.42 494.59L1633.01 502.61L1633.01 524.61L1620.42 516.59ZM1633.01 502.61L1641.23 502.21L1641.23 524.21L1633.01 524.61ZM1641.23 502.21L1651.1 493.11L1651.1 515.11L1641.23 524.21ZM1651.1 493.11L1684.61 498.93L1684.61 520.93L1651.1 515.11ZM1684.61 520.93L1683.21 531.5L1683.21 509.5L1684.61 498.93ZM1683.21 509.5L1689.53 512.42L1689.53 534.42L1683.21 531.5ZM1689.53 512.42L1708.2 509.82L1708.2 531.82L1689.53 534.42ZM1708.2 509.82L1724.43 526.97L1724.43 548.97L1708.2 531.82ZM1724.43 548.97L1709.86 555.9L1709.86 533.9L1724.43 526.97ZM1709.86 533.9L1710.58 538.43L1710.58 560.43L1709.86 555.9Z" fill="#9bb0de" stroke="#9bb0de" stroke-width="1"/><path d="M1710.58 538.43L1727.11 543.86L1716.55 562.3L1697.34 561.53L1692.04 565.01L1696.75 575.28L1665.58 584.21L1652.99 576.19L1644.77 576.59L1634.9 585.69L1601.39 579.87L1602.79 569.3L1596.47 566.38L1577.8 568.98L1561.57 551.83L1576.14 544.9L1575.42 540.37L1558.89 534.94L1569.45 516.5L1588.66 517.27L1593.96 513.79L1589.25 503.52L1620.42 494.59L1633.01 502.61L1641.23 502.21L1651.1 493.11L1684.61 498.93L1683.21 509.5L1689.53 512.42L1708.2 509.82L1724.43 526.97L1709.86 533.9Z" fill="#bccff6" stroke="#bccff6" stroke-width="1.6"/><ellipse cx="1643" cy="540" rx="43" ry="23.2" fill="#9db1de"/></g><rect x="1622.2" y="445" width="38" height="118.4" fill="#fee68b"/><rect x="1622.2" y="445" width="38" height="118.4" fill="#e5d58c" clip-path="url(#grt)"/><rect x="1622.2" y="445" width="38" height="118.4" fill="#d8c67b" clip-path="url(#grh)"/>
<path d="M1685 465.3L1932 465.3C1941.94 465.3 1950 473.36 1950 483.3L1950 487.5C1950 497.44 1958.06 505.5 1968 505.5L2380 505.5" fill="none" stroke="#a2a2a2" stroke-width="2"/>
<text x="2378" y="492.4" font-family="'Liberation Sans', sans-serif" font-size="49.5" font-weight="400" fill="#4b4b4b" text-anchor="end" stroke="#4b4b4b" stroke-width="0.9"  textLength="237.7" lengthAdjust="spacingAndGlyphs">Cold start</text>
<text x="2378" y="546.2" font-family="'Liberation Sans', sans-serif" font-size="39.5" font-weight="400" fill="#555" text-anchor="end"  stroke="#f1f9fc" stroke-width="0.8" textLength="123" lengthAdjust="spacingAndGlyphs">~30ms</text>
<path d="M1352 903H1600" fill="none" stroke="#a2a2a2" stroke-width="2"/>
<text x="1353.8" y="887.5" font-family="'Liberation Sans', sans-serif" font-size="49.5" font-weight="400" fill="#4b4b4b" text-anchor="start" stroke="#4b4b4b" stroke-width="0.9"  textLength="173.3" lengthAdjust="spacingAndGlyphs">Pull job</text>
<path d="M2054 1029.7H2378" fill="none" stroke="#a2a2a2" stroke-width="2"/>
<text x="2376" y="1014.8" font-family="'Liberation Sans', sans-serif" font-size="49.5" font-weight="400" fill="#4b4b4b" text-anchor="end" stroke="#4b4b4b" stroke-width="0.9"  textLength="235" lengthAdjust="spacingAndGlyphs">Execution</text>
<path d="M1407.5 1065.7H1600" fill="none" stroke="#a2a2a2" stroke-width="2"/>
<text x="1409.2" y="1053.5" font-family="'Liberation Sans', sans-serif" font-size="38" font-weight="400" fill="#4b4b4b" text-anchor="start" stroke="#4b4b4b" stroke-width="0.45"  textLength="133.04" lengthAdjust="spacingAndGlyphs">Pull job</text>
<path d="M2054.8 1234.5H2304" fill="none" stroke="#a2a2a2" stroke-width="2"/>
<text x="2303" y="1221.2" font-family="'Liberation Sans', sans-serif" font-size="38" font-weight="400" fill="#4b4b4b" text-anchor="end" stroke="#4b4b4b" stroke-width="0.45"  textLength="180.4" lengthAdjust="spacingAndGlyphs">Execution</text>
<path d="M1407.5 1276.8H1600" fill="none" stroke="#a2a2a2" stroke-width="2"/>
<text x="1409.2" y="1264.6" font-family="'Liberation Sans', sans-serif" font-size="38" font-weight="400" fill="#4b4b4b" text-anchor="start" stroke="#4b4b4b" stroke-width="0.45"  textLength="133.04" lengthAdjust="spacingAndGlyphs">Pull job</text>
<path d="M2057.2 1445.6H2304" fill="none" stroke="#a2a2a2" stroke-width="2"/>
<text x="2303" y="1432.3" font-family="'Liberation Sans', sans-serif" font-size="38" font-weight="400" fill="#4b4b4b" text-anchor="end" stroke="#4b4b4b" stroke-width="0.45"  textLength="180.4" lengthAdjust="spacingAndGlyphs">Execution</text>
<path d="M1407.5 1487.9H1600" fill="none" stroke="#a2a2a2" stroke-width="2"/>
<text x="1409.2" y="1475.7" font-family="'Liberation Sans', sans-serif" font-size="38" font-weight="400" fill="#4b4b4b" text-anchor="start" stroke="#4b4b4b" stroke-width="0.45"  textLength="133.04" lengthAdjust="spacingAndGlyphs">Pull job</text>
<path d="M2059.6 1656.7H2304" fill="none" stroke="#a2a2a2" stroke-width="2"/>
<text x="2303" y="1643.4" font-family="'Liberation Sans', sans-serif" font-size="38" font-weight="400" fill="#4b4b4b" text-anchor="end" stroke="#4b4b4b" stroke-width="0.45"  textLength="180.4" lengthAdjust="spacingAndGlyphs">Execution</text>
<path d="M1407.5 1699H1600" fill="none" stroke="#a2a2a2" stroke-width="2"/>
<text x="1409.2" y="1686.8" font-family="'Liberation Sans', sans-serif" font-size="38" font-weight="400" fill="#4b4b4b" text-anchor="start" stroke="#4b4b4b" stroke-width="0.45"  textLength="133.04" lengthAdjust="spacingAndGlyphs">Pull job</text>
<path d="M2062 1867.8H2304" fill="none" stroke="#a2a2a2" stroke-width="2"/>
<text x="2303" y="1854.5" font-family="'Liberation Sans', sans-serif" font-size="38" font-weight="400" fill="#4b4b4b" text-anchor="end" stroke="#4b4b4b" stroke-width="0.45"  textLength="180.4" lengthAdjust="spacingAndGlyphs">Execution</text>
<path d="M1407.5 1910.1H1600" fill="none" stroke="#a2a2a2" stroke-width="2"/>
<text x="1409.2" y="1897.9" font-family="'Liberation Sans', sans-serif" font-size="38" font-weight="400" fill="#4b4b4b" text-anchor="start" stroke="#4b4b4b" stroke-width="0.45"  textLength="133.04" lengthAdjust="spacingAndGlyphs">Pull job</text>
<path d="M2064.4 2078.9H2304" fill="none" stroke="#a2a2a2" stroke-width="2"/>
<text x="2303" y="2065.6" font-family="'Liberation Sans', sans-serif" font-size="38" font-weight="400" fill="#4b4b4b" text-anchor="end" stroke="#4b4b4b" stroke-width="0.45"  textLength="180.4" lengthAdjust="spacingAndGlyphs">Execution</text>
<path d="M1407.5 2121.2H1600" fill="none" stroke="#a2a2a2" stroke-width="2"/>
<text x="1409.2" y="2109" font-family="'Liberation Sans', sans-serif" font-size="38" font-weight="400" fill="#4b4b4b" text-anchor="start" stroke="#4b4b4b" stroke-width="0.45"  textLength="133.04" lengthAdjust="spacingAndGlyphs">Pull job</text>
<path d="M2066.8 2290H2304" fill="none" stroke="#a2a2a2" stroke-width="2"/>
<text x="2303" y="2276.7" font-family="'Liberation Sans', sans-serif" font-size="38" font-weight="400" fill="#4b4b4b" text-anchor="end" stroke="#4b4b4b" stroke-width="0.45"  textLength="180.4" lengthAdjust="spacingAndGlyphs">Execution</text>
<path d="M1407.5 2332.3H1600" fill="none" stroke="#a2a2a2" stroke-width="2"/>
<text x="1409.2" y="2320.1" font-family="'Liberation Sans', sans-serif" font-size="38" font-weight="400" fill="#4b4b4b" text-anchor="start" stroke="#4b4b4b" stroke-width="0.45"  textLength="133.04" lengthAdjust="spacingAndGlyphs">Pull job</text>
</svg>
</body></html>
